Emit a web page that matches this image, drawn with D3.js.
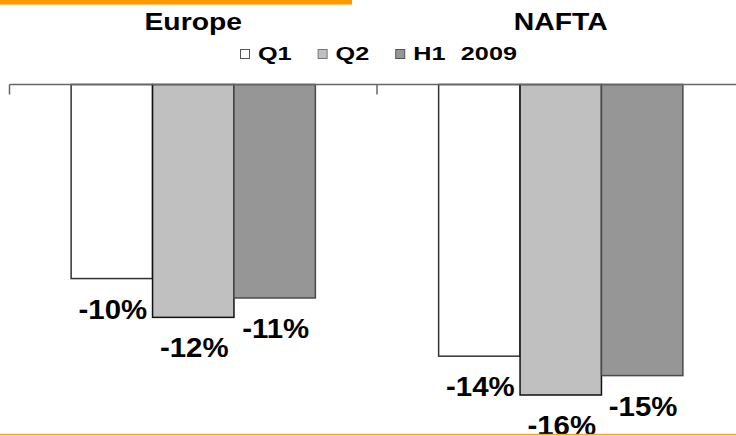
<!DOCTYPE html>
<html>
<head>
<meta charset="utf-8">
<script src="https://cdn.jsdelivr.net/npm/d3@7/dist/d3.min.js"></script>
<style>
  body { margin: 0; background: #fff; }
  svg { display: block; font-family: "Liberation Sans", Arial, sans-serif; font-weight: bold; }
</style>
</head>
<body>
<svg id="chart" width="736" height="436"></svg>
<script>
// data
var regions = ["Europe", "NAFTA"];
var series = ["Q1", "Q2", "H1 2009"];
var europe = [-10, -12, -11];
var nafta = [-14, -16, -15];
var labels = [["-10%", "-12%", "-11%"], ["-14%", "-16%", "-15%"]];

var fills = { "Q1": "#ffffff", "Q2": "#c0c0c0", "H1 2009": "#969696" };
var strokes = { "Q1": "#333333", "Q2": "#111111", "H1 2009": "#4a4a4a" };

var rows = regions.map(function (r, i) {
	var vals = i == 0 ? europe : nafta;
	return { region: r, values: series.map(function (s, j) { return { key: s, value: vals[j], label: labels[i][j] }; }) };
});

var svg = d3.select("#chart");

// scales
var x0 = d3.scaleBand()
	.domain(regions)
	.range([9.5, 744.5])
	.padding(0);

var x1 = d3.scaleBand()
	.domain(series)
	.range([0, x0.bandwidth()])
	.paddingInner(0)
	.paddingOuter(0.757);

var y = d3.scaleLinear()
	.domain([0, -16])
	.range([84.5, 395]);

// stretch text horizontally like the original slide
function stretch(sel, k) {
	sel.each(function () {
		var w = this.getComputedTextLength();
		d3.select(this).attr("textLength", w * k).attr("lengthAdjust", "spacingAndGlyphs");
	});
}

// top orange bar
svg.append("rect")
	.attr("x", 0).attr("y", 0)
	.attr("width", 352).attr("height", 4)
	.attr("fill", "#ff9900");
svg.append("rect")
	.attr("x", 0).attr("y", 4)
	.attr("width", 352).attr("height", 1)
	.attr("fill", "#ffc766");

// region titles
svg.selectAll(".title")
	.data(regions)
	.enter()
	.append("text")
	.attr("class", "title")
	.attr("x", function (d) { return x0(d) + x0.bandwidth() / 2; })
	.attr("y", 29.5)
	.attr("text-anchor", "middle")
	.attr("font-size", 24)
	.attr("fill", "#000")
	.text(function (d) { return d; })
	.call(stretch, 1.18);

// legend
var lx = 240;
series.forEach(function (s) {
	svg.append("rect")
		.attr("x", lx + 0.5).attr("y", 49.5)
		.attr("width", 9).attr("height", 9)
		.attr("fill", fills[s])
		.attr("stroke", s == "Q2" ? "#777" : "#555")
		.attr("stroke-width", 1);
	var t = svg.append("text")
		.attr("x", lx + 18)
		.attr("y", 59.5)
		.attr("font-size", 18)
		.attr("word-spacing", 6)
		.attr("fill", "#000")
		.text(s);
	t.call(stretch, 1.4);
	lx += 18 + t.node().getComputedTextLength() + 26;
});

// bars
var groups = svg.selectAll(".group")
	.data(rows)
	.enter()
	.append("g")
	.attr("class", "group")
	.attr("transform", function (d) { return "translate(" + x0(d.region) + ",0)"; });

groups.selectAll("rect")
	.data(function (d) { return d.values; })
	.enter()
	.append("rect")
	.attr("x", function (d) { return x1(d.key); })
	.attr("y", y(0))
	.attr("width", x1.bandwidth())
	.attr("height", function (d) { return y(d.value) - y(0); })
	.attr("fill", function (d) { return fills[d.key]; })
	.attr("stroke", function (d) { return strokes[d.key]; })
	.attr("stroke-width", 1.5);

// value labels
groups.selectAll(".label")
	.data(function (d) { return d.values; })
	.enter()
	.append("text")
	.attr("class", "label")
	.attr("x", function (d) { return x1(d.key) + x1.bandwidth() / 2 + 1; })
	.attr("y", function (d) { return y(d.value) + 40; })
	.attr("text-anchor", "middle")
	.attr("font-size", 28)
	.attr("fill", "#000")
	.text(function (d) { return d.label; })
	.call(stretch, 1.05);

// category axis at zero, ticks at band edges
svg.append("line")
	.attr("x1", x0.range()[0]).attr("x2", 736)
	.attr("y1", y(0)).attr("y2", y(0))
	.attr("stroke", "#666")
	.attr("stroke-width", 1.5);

svg.selectAll(".tick")
	.data(regions)
	.enter()
	.append("line")
	.attr("class", "tick")
	.attr("x1", function (d) { return x0(d); })
	.attr("x2", function (d) { return x0(d); })
	.attr("y1", y(0)).attr("y2", y(0) + 10)
	.attr("stroke", "#666")
	.attr("stroke-width", 1.5);

// bottom orange rule
svg.append("rect")
	.attr("x", 0).attr("y", 433.8)
	.attr("width", 736).attr("height", 1.6)
	.attr("fill", "#f3a23a");
</script>
</body>
</html>
